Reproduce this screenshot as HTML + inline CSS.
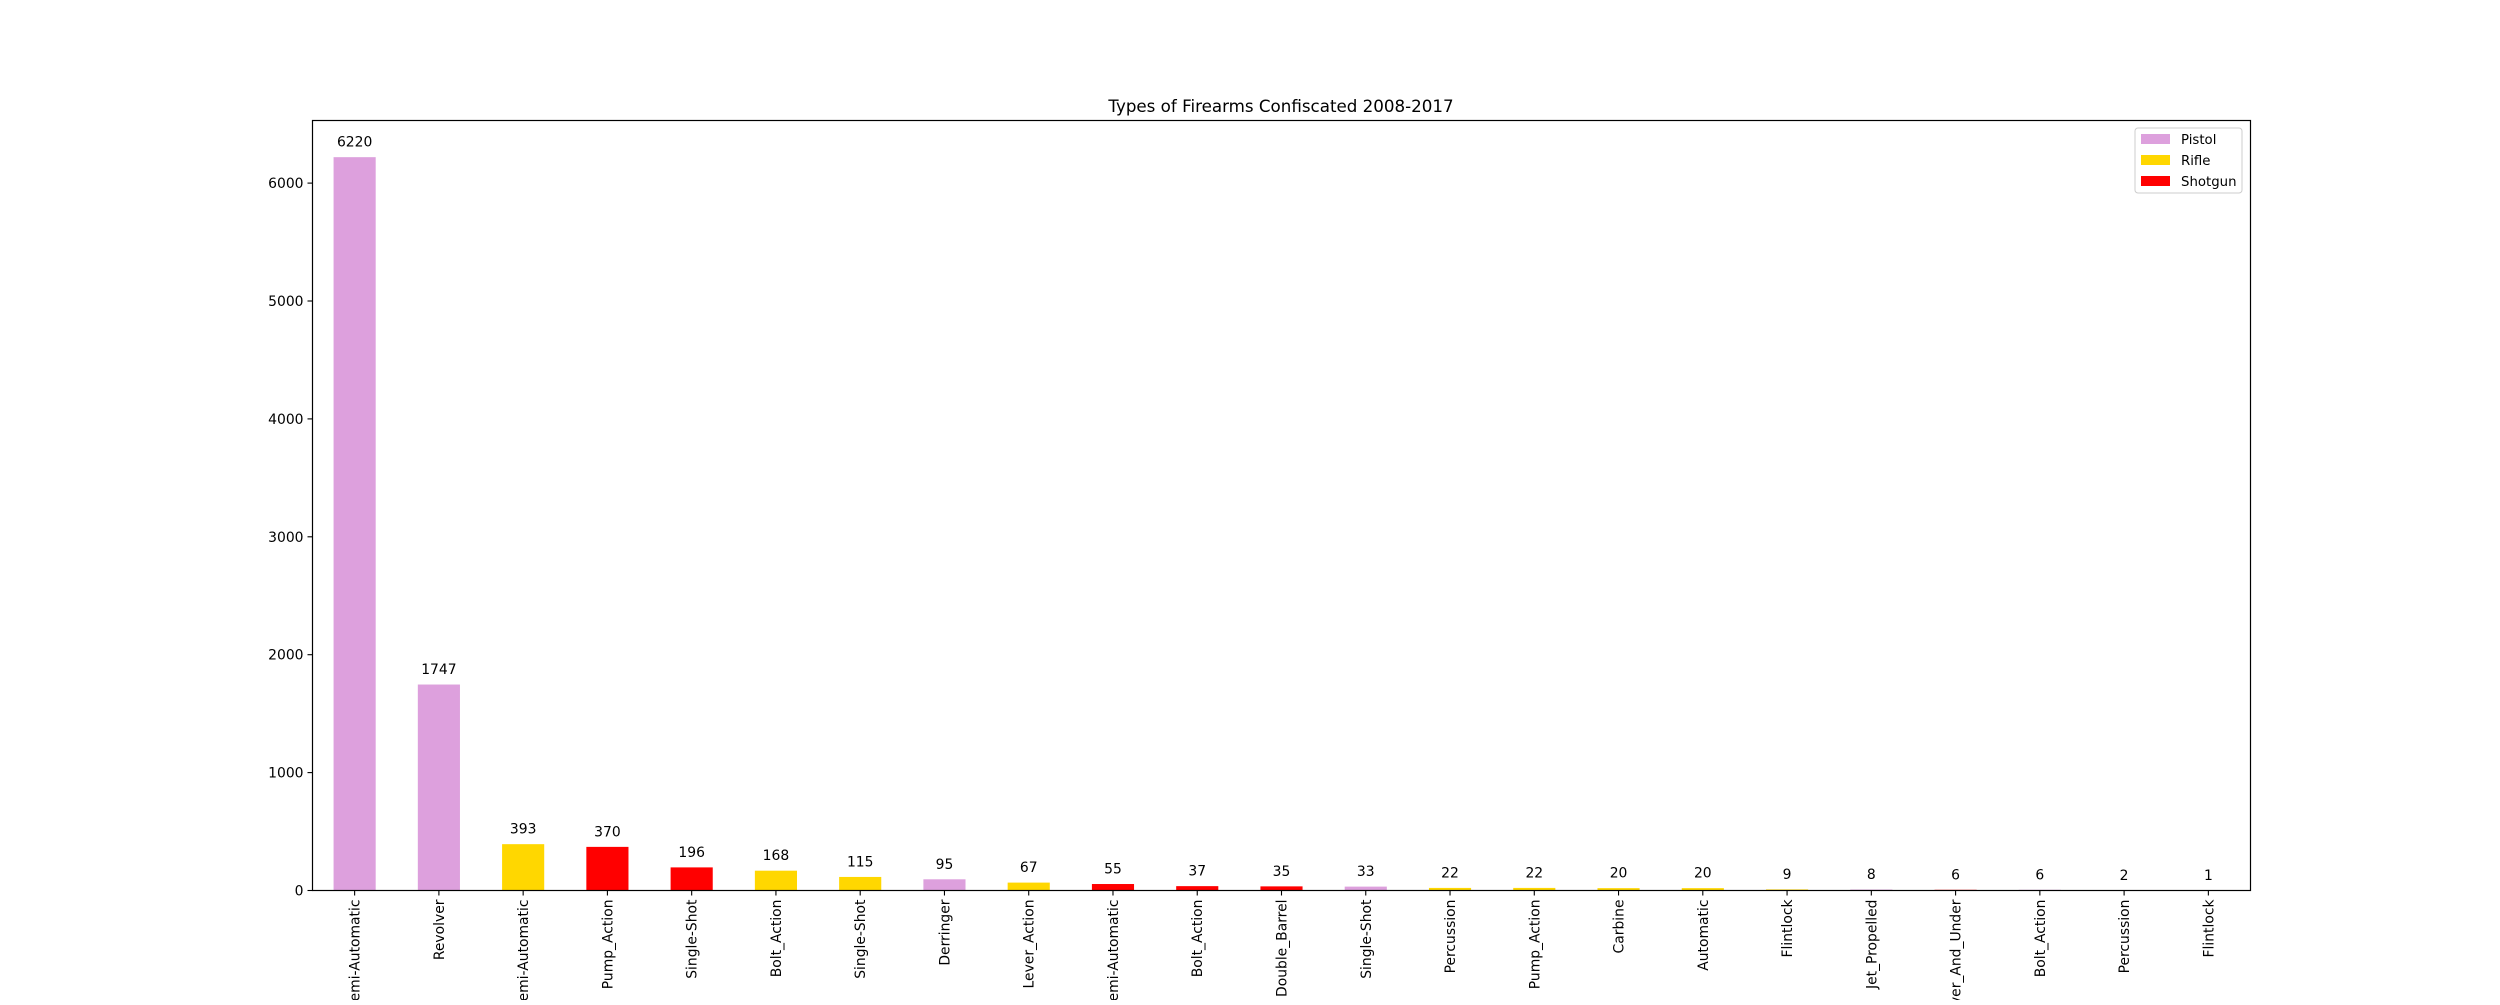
<!DOCTYPE html>
<html><head><meta charset="utf-8"><style>
html,body{margin:0;padding:0;background:#fff;}
svg text{font-family:"DejaVu Sans","Liberation Sans",sans-serif;fill:#000;}
</style></head><body>
<svg id="chart" width="2500" height="1000" xmlns="http://www.w3.org/2000/svg">
<rect width="2500" height="1000" fill="#fff"/>
<text x="1281" y="112" font-size="16.7" text-anchor="middle">Types of Firearms Confiscated 2008-2017</text>
<g id="bars"></g>
<g id="yaxis"></g>
<g id="xaxis"></g>
<rect x="312.5" y="120.5" width="1938" height="770" fill="none" stroke="#000" stroke-width="1.2"/>
<g>
<rect x="2135" y="128" width="107" height="65" rx="3" fill="#fff" fill-opacity="0.8" stroke="#ccc"/>
<rect x="2141" y="134" width="29" height="10" fill="#dda0dd"/>
<text x="2181" y="144" font-size="13.3">Pistol</text>
<rect x="2141" y="155" width="29" height="10" fill="#ffd700"/>
<text x="2181" y="165" font-size="13.3">Rifle</text>
<rect x="2141" y="176" width="29" height="10" fill="#ff0000"/>
<text x="2181" y="186" font-size="13.3">Shotgun</text>
</g>
</svg>
<script>
const categories=["Semi-Automatic","Revolver","Semi-Automatic","Pump_Action","Single-Shot","Bolt_Action","Single-Shot","Derringer","Lever_Action","Semi-Automatic","Bolt_Action","Double_Barrel","Single-Shot","Percussion","Pump_Action","Carbine","Automatic","Flintlock","Jet_Propelled","Over_And_Under","Bolt_Action","Percussion","Flintlock"];
const values=[6220,1747,393,370,196,168,115,95,67,55,37,35,33,22,22,20,20,9,8,6,6,2,1];
const types=["Pistol","Pistol","Rifle","Shotgun","Shotgun","Rifle","Rifle","Pistol","Rifle","Shotgun","Shotgun","Shotgun","Pistol","Rifle","Rifle","Rifle","Rifle","Rifle","Pistol","Shotgun","Pistol","Pistol","Rifle"];
const yTicks=[0,1000,2000,3000,4000,5000,6000];
const colors={Pistol:"#dda0dd",Rifle:"#ffd700",Shotgun:"#ff0000"};
const NS="http://www.w3.org/2000/svg";
const L=312.5,R=2250.5,T=120.5,B=890.5;
const n=categories.length;
const ymax=Math.max(...values)*1.05;
const xs=i=>L+(i+0.5)*(R-L)/n;
const ys=v=>B-v/ymax*(B-T);
const bw=0.5*(R-L)/n;
function mk(tag,attrs,parent){const e=document.createElementNS(NS,tag);for(const k in attrs)e.setAttribute(k,attrs[k]);parent.appendChild(e);return e;}
const gb=document.getElementById('bars'),gx=document.getElementById('xaxis'),gy=document.getElementById('yaxis');
values.forEach((v,i)=>{
 const r=mk('rect',{x:xs(i)-bw/2,y:ys(v),width:bw,height:B-ys(v),fill:colors[types[i]]},gb);
 
 
 const t=mk('text',{x:xs(i),y:ys(v)-10.5,'font-size':13.9,'text-anchor':'middle'},gb);
 t.textContent=v;
 
 
 const tk=mk('line',{x1:xs(i),x2:xs(i),y1:B,y2:B+5,stroke:'#000','stroke-width':1.1},gx);
 
 
 const lb=mk('text',{x:0,y:0,'font-size':13.9,'text-anchor':'end',transform:`translate(${xs(i)+5},${B+9}) rotate(-90)`},gx);
 lb.textContent=categories[i];
 
 
});
yTicks.forEach(v=>{
 const tk=mk('line',{x1:L-5,x2:L,y1:ys(v),y2:ys(v),stroke:'#000','stroke-width':1.1},gy);
 
 
 const lb=mk('text',{x:L-9,y:ys(v)+5,'font-size':13.9,'text-anchor':'end'},gy);
 lb.textContent=v;
 
 
});
</script>
</body></html>
